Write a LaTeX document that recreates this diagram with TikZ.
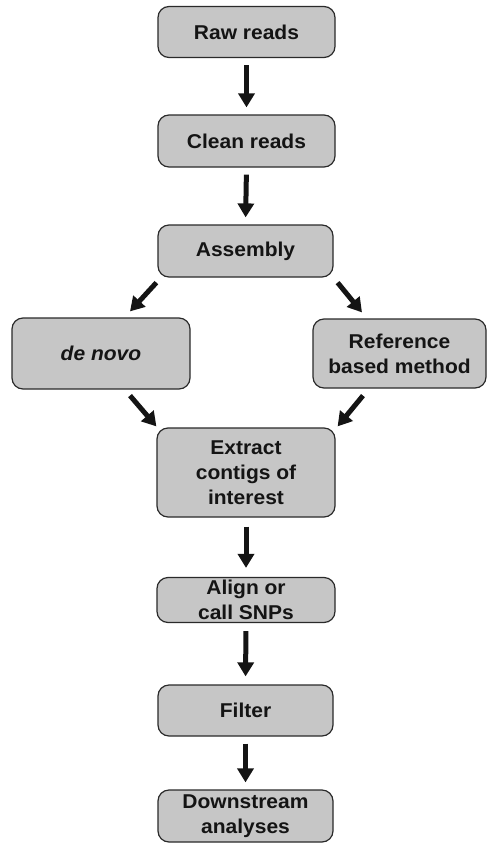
\documentclass[tikz,border=0pt]{standalone}
\usepackage{fontspec}
\setmainfont{Liberation Sans}[FakeStretch=1.05]
\usetikzlibrary{arrows.meta,calc}
\definecolor{boxfill}{HTML}{C6C6C6}
\definecolor{boxline}{HTML}{2A2A2A}
\definecolor{ink}{HTML}{141414}
\tikzset{
  stage/.style={draw=boxline, line width=1.2pt, fill=boxfill, rounded corners=11pt,
    minimum width=177pt, inner sep=0pt, align=center, text=ink,
    font=\fontsize{20pt}{25pt}\selectfont\bfseries},
  flow/.style={draw=ink, line width=5pt,
    -{Triangle[length=14pt,width=16pt]}},
}
\begin{document}
\begin{tikzpicture}[x=1pt,y=-1pt]
  \useasboundingbox (0,0) rectangle (487,849);
  % main column
  \node[stage, minimum height=51pt] (raw) at (246.5,32) {Raw reads};
  \node[stage, minimum height=52pt] (clean) at (246.5,141) {Clean reads};
  \node[stage, minimum height=52pt, minimum width=175pt] (asm) at (245.5,251) {Assembly};
  % the two assembly routes
  \node[stage, minimum height=71pt, minimum width=178pt] (denovo) at (101,353.5) {\itshape de novo};
  \node[stage, minimum height=69pt, minimum width=173pt] (ref) at (399.5,353.5) {Reference\\based method};
  % downstream column
  \node[stage, minimum height=89pt, minimum width=178pt] (extract) at (246,472.5) {Extract\\contigs of\\interest};
  \node[stage, minimum height=45pt, minimum width=178pt] (align) at (246,600) {Align or\\call SNPs};
  \node[stage, minimum height=51pt, minimum width=175pt] (filter) at (245.5,710.5) {Filter};
  \node[stage, minimum height=52pt, minimum width=175pt] (down) at (245.5,816) {Downstream\\analyses};
  % vertical arrows
  \draw[flow, shorten <=7pt, shorten >=7pt] (raw.south) -- (clean.north);
  \draw[flow, shorten <=7pt, shorten >=7pt] (clean.south) -- (asm.north);
  \draw[flow, shorten <=9pt, shorten >=9pt] (extract.south) -- (align.north);
  \draw[flow, shorten <=8pt, shorten >=8pt] (align.south) -- (filter.north);
  \draw[flow, shorten <=7pt, shorten >=7pt] (filter.south) -- (down.north);
  % diagonal arrows
  \draw[flow] ([shift={(-1,5)}]asm.south west) -- ([shift={(29,-6)}]denovo.north);
  \draw[flow] ([shift={(4,5)}]asm.south east) -- ([shift={(-37.5,-6)}]ref.north);
  \draw[flow] ([shift={(29,6)}]denovo.south) -- ([shift={(0,-1)}]extract.north west);
  \draw[flow] ([shift={(-36.5,7)}]ref.south) -- ([shift={(2,-1)}]extract.north east);
\end{tikzpicture}
\end{document}
